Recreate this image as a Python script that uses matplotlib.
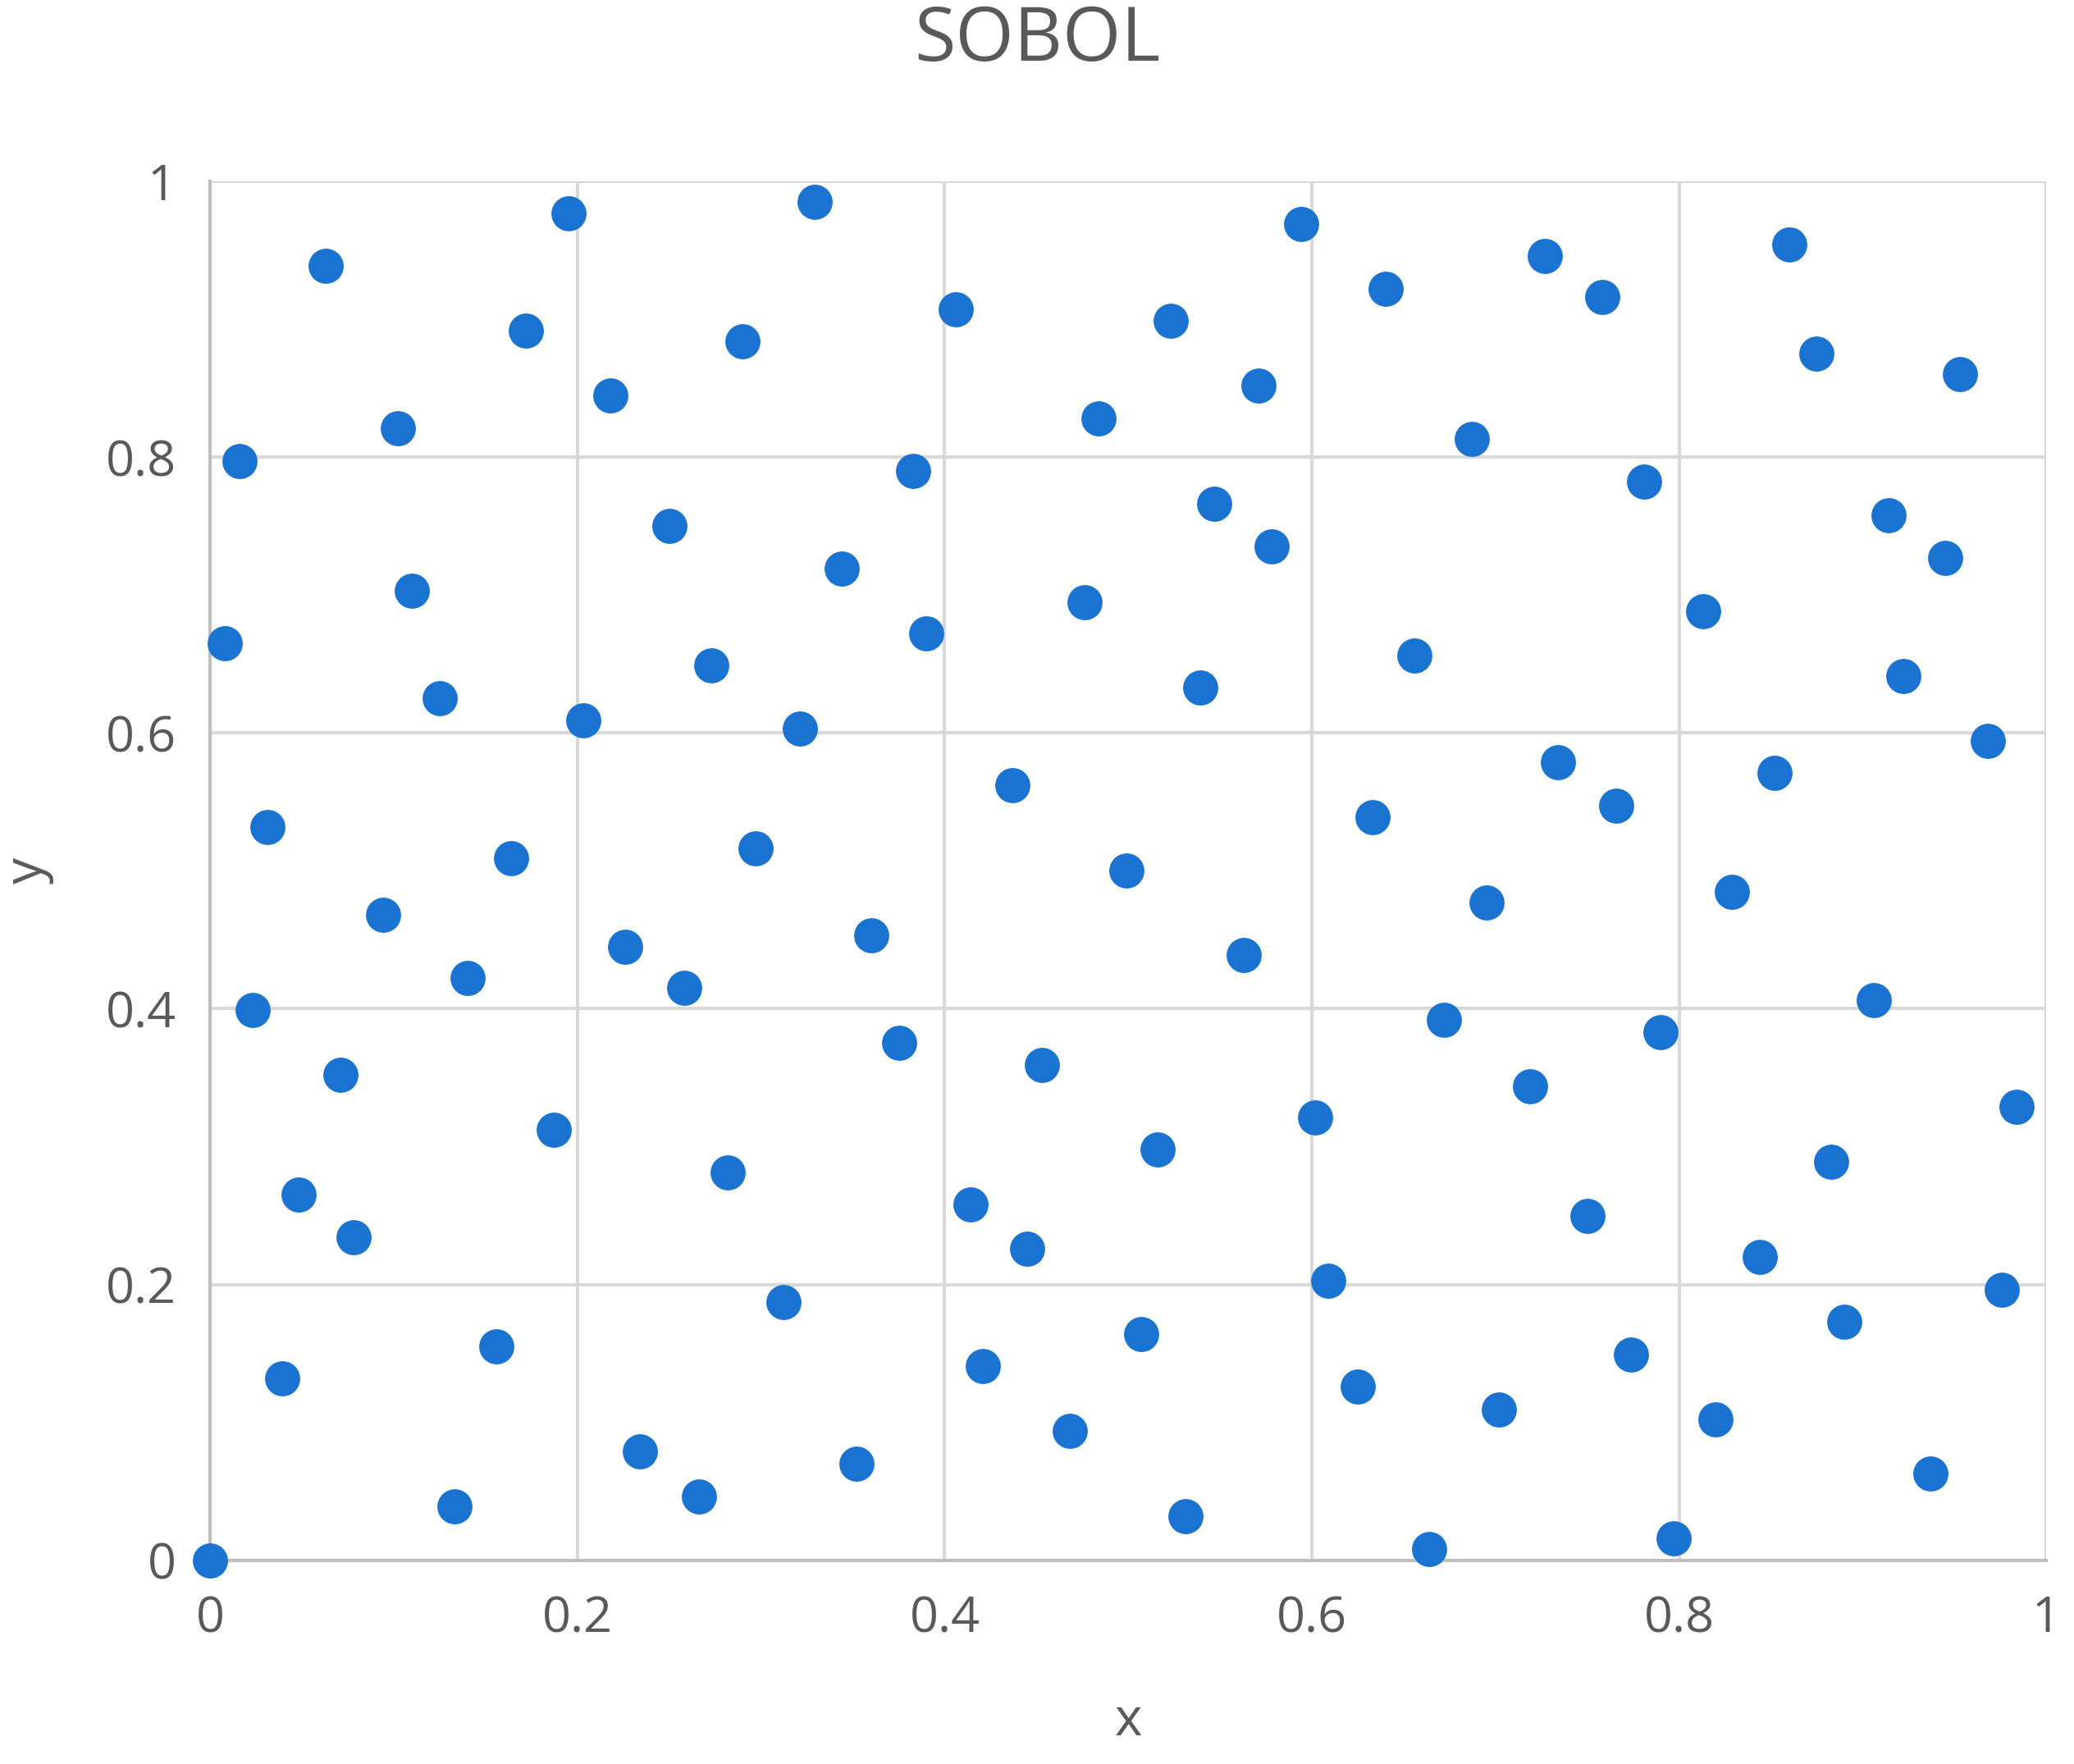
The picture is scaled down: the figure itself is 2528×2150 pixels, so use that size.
import matplotlib
matplotlib.use("Agg")
import matplotlib.pyplot as plt

x = [0.0,0.016,0.008,0.031,0.023,0.063,0.071,0.048,0.078,0.039,0.102,0.110,0.094,0.125,0.140,0.133,0.156,0.164,0.172,0.187,
     0.195,0.203,0.218,0.226,0.234,0.250,0.258,0.266,0.273,0.282,0.290,0.297,0.312,0.321,0.329,0.344,0.352,0.360,0.375,0.383,
     0.390,0.406,0.414,0.421,0.437,0.445,0.453,0.468,0.476,0.484,0.499,0.507,0.516,0.523,0.531,0.539,0.547,0.563,0.571,0.578,
     0.594,0.602,0.609,0.625,0.633,0.640,0.656,0.664,0.672,0.687,0.695,0.702,0.719,0.727,0.734,0.750,0.758,0.766,0.774,0.781,
     0.790,0.797,0.813,0.820,0.829,0.844,0.852,0.860,0.875,0.883,0.890,0.906,0.914,0.922,0.937,0.945,0.953,0.968,0.976,0.984]
y = [0.0,0.797,0.665,0.532,0.399,0.939,0.352,0.265,0.234,0.132,0.821,0.703,0.468,0.625,0.422,0.039,0.155,0.509,0.892,0.312,
     0.977,0.609,0.845,0.445,0.079,0.750,0.415,0.046,0.649,0.281,0.884,0.516,0.187,0.603,0.985,0.719,0.070,0.453,0.375,0.790,
     0.672,0.907,0.258,0.141,0.562,0.226,0.359,0.094,0.695,0.828,0.500,0.164,0.298,0.899,0.032,0.633,0.766,0.439,0.852,0.735,
     0.969,0.321,0.203,0.126,0.539,0.922,0.656,0.008,0.392,0.813,0.477,0.109,0.344,0.946,0.579,0.250,0.916,0.547,0.149,0.782,
     0.383,0.016,0.688,0.102,0.485,0.220,0.571,0.954,0.875,0.289,0.173,0.406,0.758,0.641,0.063,0.727,0.860,0.594,0.196,0.329]
ticks = [0, 0.2, 0.4, 0.6, 0.8, 1]
tick_labels = ["0", "0.2", "0.4", "0.6", "0.8", "1"]

plt.rcParams['font.family'] = ['Open Sans', 'DejaVu Sans']
fig = plt.figure(figsize=(25.28, 21.5), dpi=100)
ax = fig.add_axes([0.1014, 0.1155, 0.8852, 0.7817])
ax.scatter(x, y, s=950, color="#1a73d0", zorder=3, clip_on=False, linewidths=0)
ax.set_xlim(0, 1); ax.set_ylim(0, 1)
ax.set_xticks(ticks); ax.set_xticklabels(tick_labels)
ax.set_yticks(ticks); ax.set_yticklabels(tick_labels)
ax.grid(True, color="#d9d9d9", linewidth=3)
ax.tick_params(length=0, labelsize=44, labelcolor="#595959", pad=30)
for s in ["top", "right"]:
    ax.spines[s].set_visible(False)
for s in ["left", "bottom"]:
    ax.spines[s].set_color("#bfbfbf"); ax.spines[s].set_linewidth(3)
ax.set_xlabel("x", fontsize=46, color="#595959", labelpad=45)
ax.set_ylabel("y", fontsize=46, color="#595959", labelpad=45)
fig.suptitle("SOBOL", fontsize=66, color="#595959", y=0.998)
fig.savefig("out.png", dpi=100)
